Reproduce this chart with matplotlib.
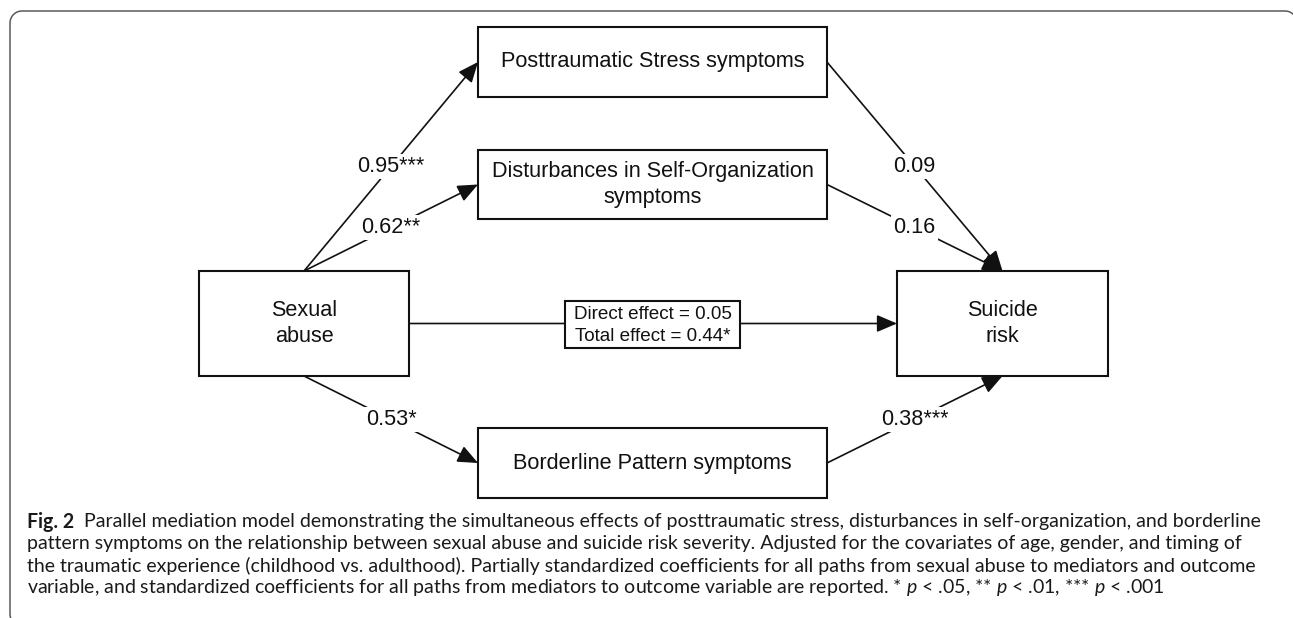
#!/usr/bin/env python3
"""Parallel mediation model diagram (Fig. 2) redrawn with matplotlib."""

import matplotlib

matplotlib.use("Agg")
import matplotlib.pyplot as plt
import numpy as np
from matplotlib.patches import FancyArrowPatch, Rectangle

plt.rcParams["mathtext.fontset"] = "custom"
plt.rcParams["mathtext.rm"] = "Lato"
plt.rcParams["mathtext.it"] = "Lato:italic"

# Figure size in pixels (dpi 100)
W, H = 1293, 618

# ---- data -------------------------------------------------------------
predictor = "Sexual\nabuse"
outcome = "Suicide\nrisk"
mediators = [
    "Posttraumatic Stress symptoms",
    "Disturbances in Self-Organization\nsymptoms",
    "Borderline Pattern symptoms",
]
a_paths = ["0.95***", "0.62**", "0.53*"]   # predictor -> mediator
b_paths = ["0.09", "0.16", "0.38***"]      # mediator -> outcome
direct_text = ["Direct effect = 0.05", "Total effect = 0.44*"]

caption_lead = "Fig. 2"
caption_lines = [
    "  Parallel mediation model demonstrating the simultaneous effects of posttraumatic stress, "
    "disturbances in self-organization, and borderline",
    "pattern symptoms on the relationship between sexual abuse and suicide risk severity. "
    "Adjusted for the covariates of age, gender, and timing of",
    "the traumatic experience (childhood vs. adulthood). Partially standardized coefficients "
    "for all paths from sexual abuse to mediators and outcome",
    "variable, and standardized coefficients for all paths from mediators to outcome variable "
    "are reported. * $p$ < .05, ** $p$ < .01, *** $p$ < .001",
]

# ---- layout (pixel coordinates, y downwards) --------------------------
PRED_BOX = (199, 271, 409, 376)          # x0, y0, x1, y1
OUT_BOX = (897, 271, 1108, 376)
MED_BOXES = [(478, 27, 827, 97), (478, 150, 827, 219), (478, 428, 827, 498)]
DIRECT_BOX = (565, 301, 740, 348)

BOX_FONT = dict(family="Liberation Sans", fontsize=15.6, color="#111111")
LW_BOX = 1.5
LW_LINE = 1.2


def center(b):
    return ((b[0] + b[2]) / 2, (b[1] + b[3]) / 2)


def draw_box(ax, b, text):
    ax.add_patch(Rectangle((b[0], b[1]), b[2] - b[0], b[3] - b[1],
                           facecolor="white", edgecolor="#111111",
                           lw=LW_BOX, zorder=3))
    cx, cy = center(b)
    ax.text(cx, cy, text, ha="center", va="center", linespacing=1.3,
            zorder=4, **BOX_FONT)


def draw_arrow(ax, start, end, label=None):
    arr = FancyArrowPatch(start, end, arrowstyle="-|>,head_length=0.75,head_width=0.32",
                          mutation_scale=16.5, lw=LW_LINE, color="#111111",
                          shrinkA=0, shrinkB=0, zorder=2)
    ax.add_patch(arr)
    if label is not None:
        mx, my = (start[0] + end[0]) / 2, (start[1] + end[1]) / 2
        ax.text(mx, my, label, ha="center", va="center", zorder=5,
                bbox=dict(facecolor="white", edgecolor="none", pad=1.5),
                **BOX_FONT)


def arc(cx, cy, r, t0, t1, n=20):
    t = np.radians(np.linspace(t0, t1, n))
    return np.column_stack([cx + r * np.cos(t), cy - r * np.sin(t)])


fig = plt.figure(figsize=(W / 100, H / 100), dpi=100)
ax = fig.add_axes([0, 0, 1, 1])
ax.set_xlim(0, W)
ax.set_ylim(H, 0)
ax.axis("off")

# outer rounded frame: only left and top edges are inside the picture
R = 12
frame = np.vstack([
    arc(10 + R, 614, R, 270, 180),        # bottom-left curl
    arc(10 + R, 11 + R, R, 180, 90),      # top-left corner
    arc(1285, 11 + R, R, 90, 0),          # top-right corner
])
ax.plot(frame[:, 0], frame[:, 1], color="#5a5a5a", lw=1.1, solid_capstyle="butt")

# boxes
draw_box(ax, PRED_BOX, predictor)
draw_box(ax, OUT_BOX, outcome)
for b, name in zip(MED_BOXES, mediators):
    draw_box(ax, b, name)

# a and b paths
pred_top = ((PRED_BOX[0] + PRED_BOX[2]) / 2, PRED_BOX[1])
pred_bot = ((PRED_BOX[0] + PRED_BOX[2]) / 2, PRED_BOX[3])
out_top = ((OUT_BOX[0] + OUT_BOX[2]) / 2, OUT_BOX[1])
out_bot = ((OUT_BOX[0] + OUT_BOX[2]) / 2, OUT_BOX[3])
starts = [pred_top, pred_top, pred_bot]
ends = [out_top, out_top, out_bot]
for b, s, e, la, lb in zip(MED_BOXES, starts, ends, a_paths, b_paths):
    cy = center(b)[1]
    draw_arrow(ax, s, (b[0], cy), la)
    draw_arrow(ax, (b[2], cy), e, lb)

# direct path
ymid = center(PRED_BOX)[1]
draw_arrow(ax, (PRED_BOX[2], ymid), (OUT_BOX[0], ymid))
ax.add_patch(Rectangle((DIRECT_BOX[0], DIRECT_BOX[1]),
                       DIRECT_BOX[2] - DIRECT_BOX[0], DIRECT_BOX[3] - DIRECT_BOX[1],
                       facecolor="white", edgecolor="#111111", lw=LW_BOX, zorder=3))
dcx, dcy = center(DIRECT_BOX)
ax.text(dcx, dcy + 1, "\n".join(direct_text), ha="center", va="center",
        linespacing=1.38, zorder=4, family="Liberation Sans", fontsize=13.6,
        color="#111111")

# ---- caption ----------------------------------------------------------
renderer = fig.canvas.get_renderer()
CAP_X = 27
CAP_Y0 = 522
CAP_DY = 22
CAP_RIGHT = 1258


def caption_line(y, pieces, size):
    x = CAP_X
    arts = []
    for txt, weight in pieces:
        t = ax.text(x, y, txt, ha="left", va="center", family="Lato",
                    fontsize=size, fontweight=weight, color="#1a1a1a")
        arts.append(t)
        x += t.get_window_extent(renderer).width
    return x, arts


# fit the first line to its width in the reference
base = 12.0
first = [(caption_lead, "bold"), (caption_lines[0], "normal")]
xend, arts = caption_line(CAP_Y0, first, base)
for a in arts:
    a.remove()
size = base * (CAP_RIGHT - CAP_X) / (xend - CAP_X)

caption_line(CAP_Y0, first, size)
for i, line in enumerate(caption_lines[1:], start=1):
    caption_line(CAP_Y0 + i * CAP_DY, [(line, "normal")], size)

fig.savefig("out.png", dpi=100)
plt.close(fig)
